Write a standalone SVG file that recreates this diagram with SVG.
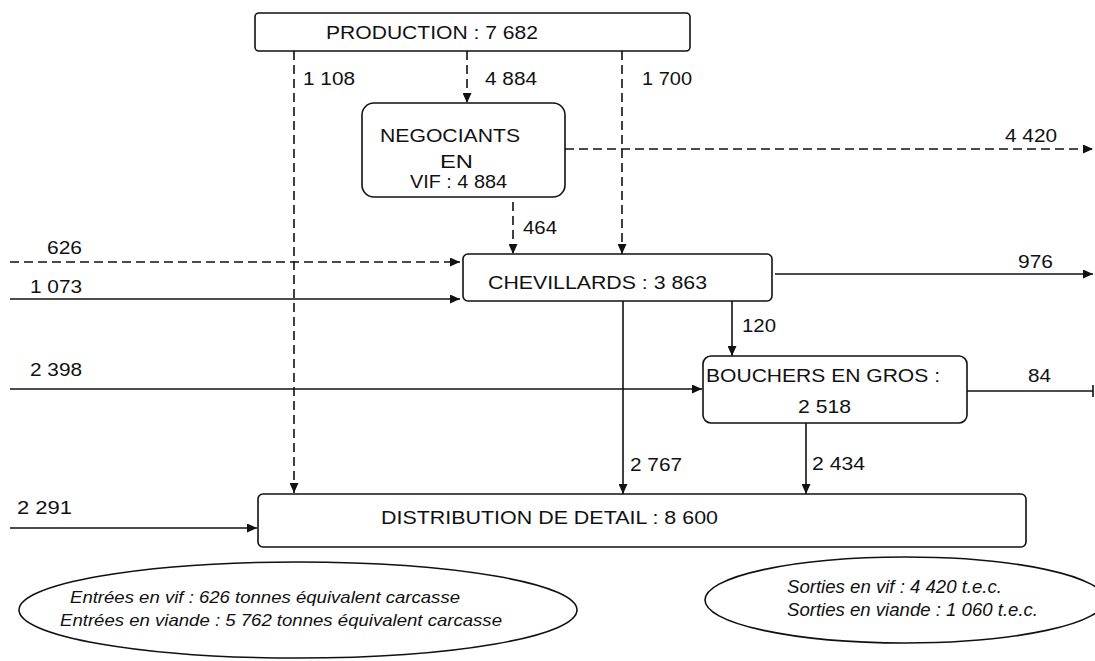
<svg xmlns="http://www.w3.org/2000/svg" width="1095" height="661" viewBox="0 0 1095 661">
<style>
.box{fill:#fff;stroke:#111;stroke-width:1.6}
.ln{fill:none;stroke:#111;stroke-width:1.6}
.dash{stroke-dasharray:9 5}
.t{font-family:"Liberation Sans",Arial,sans-serif;font-size:19px;fill:#111}
.it{font-family:"Liberation Sans",Arial,sans-serif;font-style:italic;fill:#111}
.ell{fill:none;stroke:#111;stroke-width:1.6}
</style>
<defs>
<marker id="ah" markerUnits="userSpaceOnUse" markerWidth="10" markerHeight="9" refX="10" refY="4.5" orient="auto">
<path d="M0,0 L10,4.5 L0,9 z" fill="#111"/>
</marker>
</defs>
<rect width="1095" height="661" fill="#fff"/>

<g id="connectors">
<line class="ln dash" x1="294" y1="51" x2="294" y2="493" marker-end="url(#ah)"/>
<line class="ln dash" x1="467" y1="51" x2="467" y2="103" marker-end="url(#ah)"/>
<line class="ln dash" x1="622" y1="51" x2="622" y2="254" marker-end="url(#ah)"/>
<line class="ln dash" x1="565" y1="149" x2="1093" y2="149" marker-end="url(#ah)"/>
<line class="ln dash" x1="513" y1="202" x2="513" y2="254" marker-end="url(#ah)"/>
<line class="ln dash" x1="10" y1="262" x2="460" y2="262" marker-end="url(#ah)"/>
<line class="ln" x1="10" y1="299" x2="460" y2="299" marker-end="url(#ah)"/>
<line class="ln" x1="775" y1="274" x2="1093" y2="274" marker-end="url(#ah)"/>
<line class="ln" x1="732" y1="301" x2="732" y2="356" marker-end="url(#ah)"/>
<line class="ln" x1="10" y1="389" x2="702" y2="389" marker-end="url(#ah)"/>
<line class="ln" x1="967" y1="391" x2="1093" y2="391"/>
<line class="ln" x1="1093" y1="385" x2="1093" y2="397" stroke-width="2.5"/>
<line class="ln" x1="623" y1="301" x2="623" y2="494" marker-end="url(#ah)"/>
<line class="ln" x1="806" y1="423" x2="806" y2="494" marker-end="url(#ah)"/>
<line class="ln" x1="10" y1="528" x2="257" y2="528" marker-end="url(#ah)"/>
</g>

<g id="labels">
<text class="t" x="303" y="85" textLength="52" lengthAdjust="spacingAndGlyphs">1 108</text>
<text class="t" x="485" y="85" textLength="52" lengthAdjust="spacingAndGlyphs">4 884</text>
<text class="t" x="642" y="85" textLength="50" lengthAdjust="spacingAndGlyphs">1 700</text>
<text class="t" x="1005" y="142" textLength="52" lengthAdjust="spacingAndGlyphs">4 420</text>
<text class="t" x="523" y="234" textLength="34" lengthAdjust="spacingAndGlyphs">464</text>
<text class="t" x="47" y="254" textLength="35" lengthAdjust="spacingAndGlyphs">626</text>
<text class="t" x="30" y="293" textLength="52" lengthAdjust="spacingAndGlyphs">1 073</text>
<text class="t" x="30" y="376" textLength="52" lengthAdjust="spacingAndGlyphs">2 398</text>
<text class="t" x="1018" y="268" textLength="35" lengthAdjust="spacingAndGlyphs">976</text>
<text class="t" x="742" y="332" textLength="34" lengthAdjust="spacingAndGlyphs">120</text>
<text class="t" x="1028" y="382" textLength="23" lengthAdjust="spacingAndGlyphs">84</text>
<text class="t" x="630" y="471" textLength="52" lengthAdjust="spacingAndGlyphs">2 767</text>
<text class="t" x="812" y="470" textLength="53" lengthAdjust="spacingAndGlyphs">2 434</text>
<text class="t" x="17" y="514" textLength="55" lengthAdjust="spacingAndGlyphs">2 291</text>
</g>

<g id="production">
<rect class="box" x="255" y="13" width="435" height="38" rx="4"/>
<text class="t" x="326" y="39" textLength="212" lengthAdjust="spacingAndGlyphs">PRODUCTION : 7 682</text>
</g>

<g id="negociants">
<rect class="box" x="362" y="103" width="203" height="94" rx="12"/>
<text class="t" x="380" y="142" textLength="140" lengthAdjust="spacingAndGlyphs">NEGOCIANTS</text>
<text class="t" x="440" y="168" textLength="33" lengthAdjust="spacingAndGlyphs">EN</text>
<text class="t" x="410" y="188" textLength="97" lengthAdjust="spacingAndGlyphs">VIF : 4 884</text>
</g>

<g id="chevillards">
<rect class="box" x="463" y="254" width="309" height="47" rx="5"/>
<text class="t" x="488" y="289" textLength="219" lengthAdjust="spacingAndGlyphs">CHEVILLARDS : 3 863</text>
</g>

<g id="bouchers">
<rect class="box" x="703" y="356" width="264" height="67" rx="8"/>
<text class="t" x="706" y="382" textLength="234" lengthAdjust="spacingAndGlyphs">BOUCHERS EN GROS :</text>
<text class="t" x="798" y="413" textLength="53" lengthAdjust="spacingAndGlyphs">2 518</text>
</g>

<g id="distribution">
<rect class="box" x="258" y="494" width="768" height="53" rx="5"/>
<text class="t" x="381" y="524" textLength="337" lengthAdjust="spacingAndGlyphs">DISTRIBUTION DE DETAIL : 8 600</text>
</g>

<g id="entrees">
<ellipse class="ell" cx="298" cy="610" rx="279" ry="48"/>
<text class="it" font-size="17" x="70" y="603" textLength="390" lengthAdjust="spacingAndGlyphs">Entrées en vif : 626 tonnes équivalent carcasse</text>
<text class="it" font-size="17" x="60" y="626" textLength="442" lengthAdjust="spacingAndGlyphs">Entrées en viande : 5 762 tonnes équivalent carcasse</text>
</g>

<g id="sorties">
<ellipse class="ell" cx="905" cy="600" rx="200" ry="43"/>
<text class="it" font-size="18" x="787" y="593" textLength="215" lengthAdjust="spacingAndGlyphs">Sorties en vif : 4 420 t.e.c.</text>
<text class="it" font-size="18" x="787" y="616" textLength="251" lengthAdjust="spacingAndGlyphs">Sorties en viande : 1 060 t.e.c.</text>
</g>
</svg>
